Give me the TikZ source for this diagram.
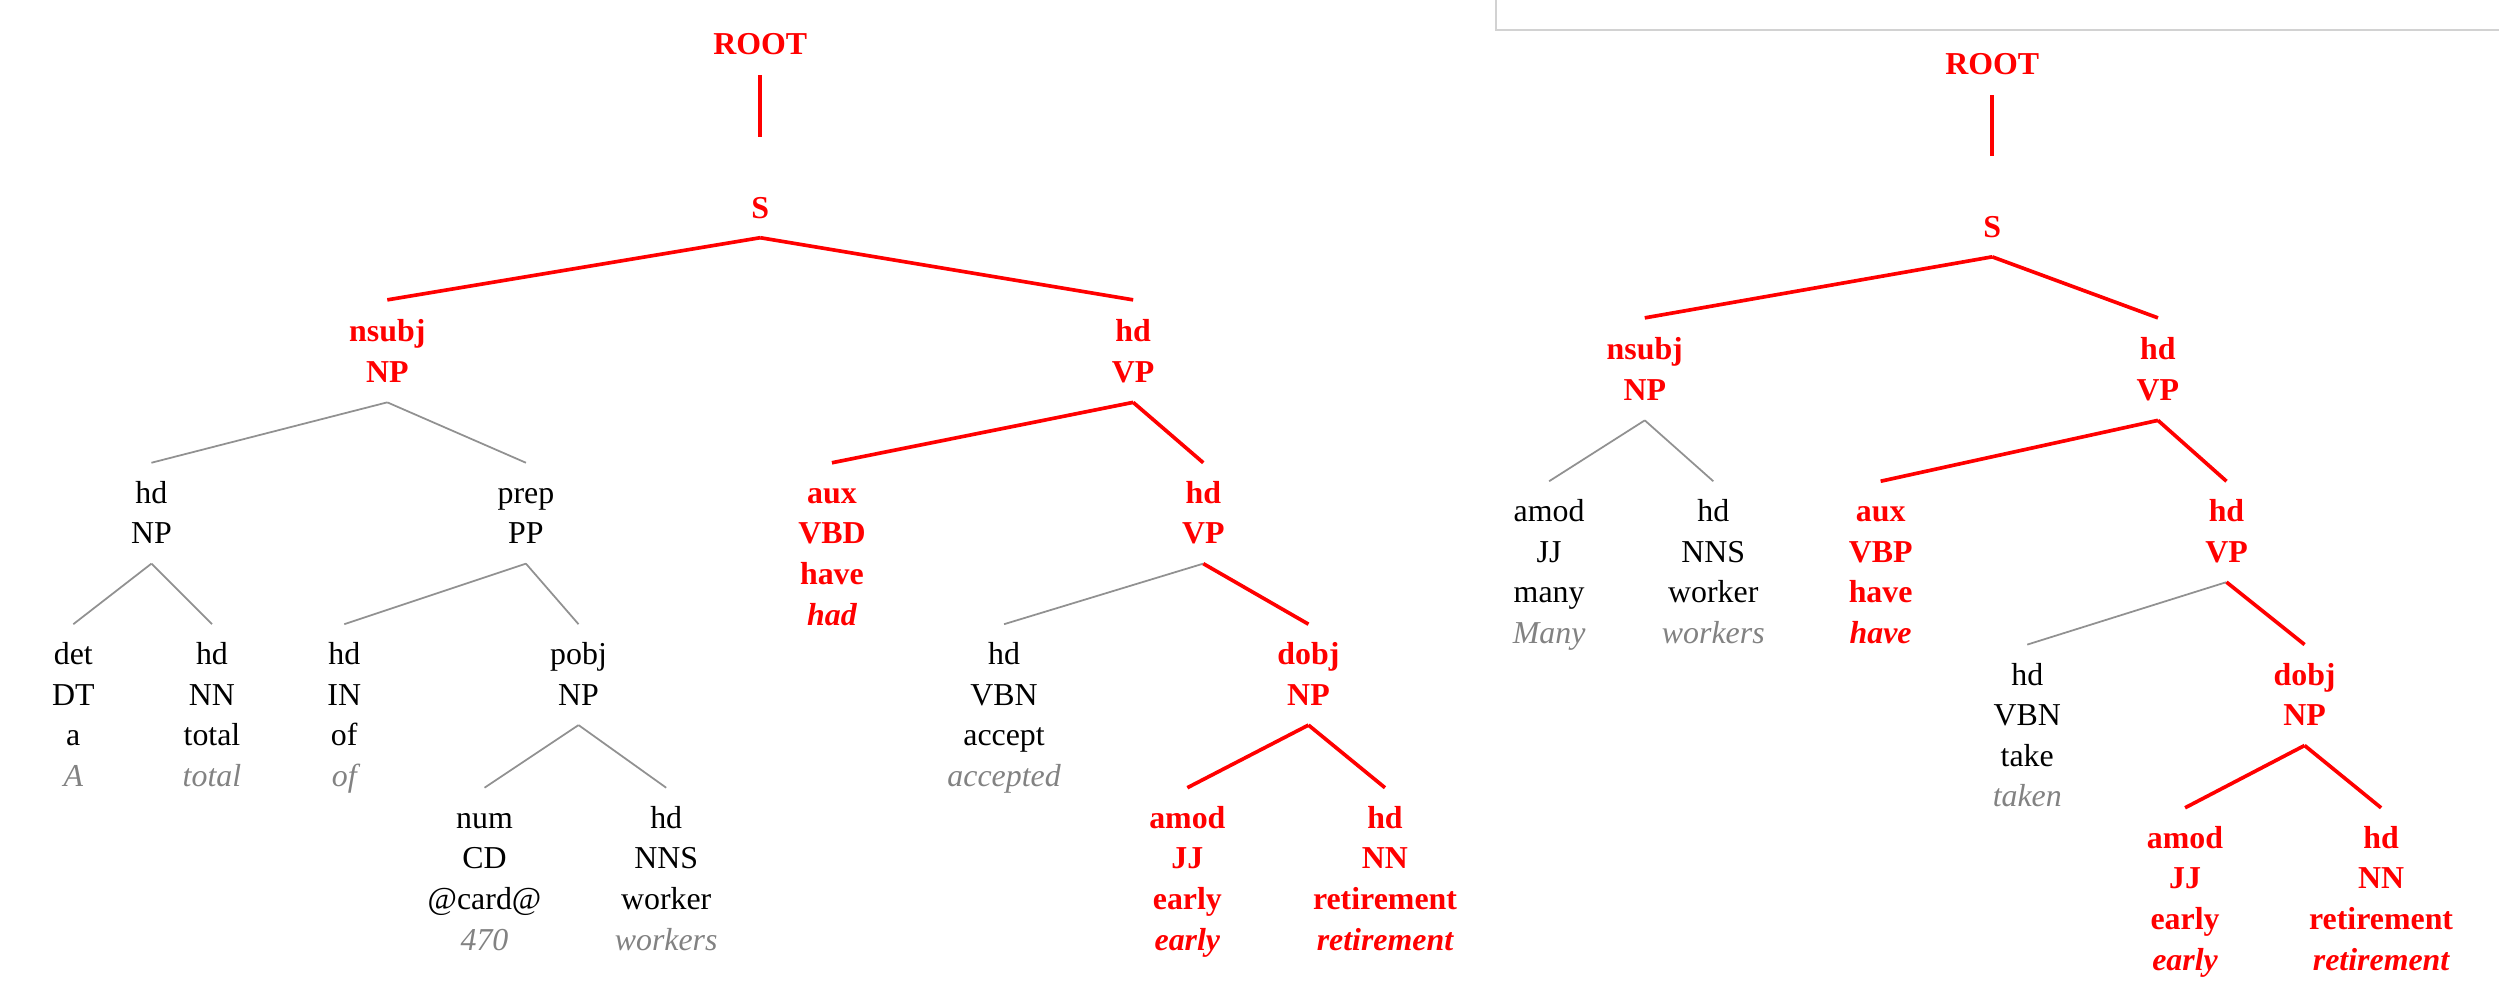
\documentclass[tikz,border=0pt]{standalone}
\usepackage{fontspec}
\setmainfont{Liberation Serif}
\definecolor{tred}{RGB}{255,0,0}
\definecolor{wgrey}{RGB}{130,130,130}
\definecolor{lgrey}{RGB}{145,145,145}
\definecolor{boxgrey}{RGB}{210,210,210}
\newcommand\gw[1]{{\color{wgrey}\itshape #1}}
\newcommand\rw[1]{{\itshape #1}}
\newcommand\tedge[3]{\draw[#1] ([yshift=-4.8pt]#2.south) -- ([yshift=7.5pt]#3.north);}
\newcommand\sedge[3]{\draw[#1] ([yshift=-4.5pt]#2.south) -- ([yshift=8.5pt]#3.north);}
\newcommand\rootedge[2]{\draw[redge] ([yshift=-5pt]#1.south) -- ([yshift=33.5pt]#2.north);}
\tikzset{
  tn/.style={anchor=north, inner sep=0pt, outer sep=0pt, align=center},
  bn/.style={tn, text=black, font=\fontsize{20}{25.5}\selectfont},
  rn/.style={tn, text=tred, font=\fontsize{20}{25.5}\selectfont\bfseries},
  redge/.style={draw=tred, line width=2.3pt},
  gedge/.style={draw=lgrey, line width=1.1pt},
}
\begin{document}
\begin{tikzpicture}[x=1pt,y=-1pt]
\useasboundingbox (0,0) rectangle (1568,616);
\draw[boxgrey, line width=1pt] (938.8,0) -- (938.8,18.8) -- (1568,18.8);

% ---------- left tree ----------
\node[rn] (lroot) at (477,16.65) {\strut ROOT};
\node[rn] (ls) at (477,119.15) {\strut S};
\node[rn] (lnsubj) at (243,196.65) {\strut nsubj\\\strut NP};
\node[rn] (lvp) at (711,196.65) {\strut hd\\\strut VP};
\node[bn] (lnp) at (95,297.85) {\strut hd\\\strut NP};
\node[bn] (lpp) at (330,297.85) {\strut prep\\\strut PP};
\node[rn] (laux) at (522,297.85) {\strut aux\\\strut VBD\\\strut have\\\strut\rw{had}};
\node[rn] (lvp2) at (755,297.85) {\strut hd\\\strut VP};
\node[bn] (ldet) at (46,399.15) {\strut det\\\strut DT\\\strut a\\\strut\gw{A}};
\node[bn] (ltotal) at (133,399.15) {\strut hd\\\strut NN\\\strut total\\\strut\gw{total}};
\node[bn] (lof) at (216,399.15) {\strut hd\\\strut IN\\\strut of\\\strut\gw{of}};
\node[bn] (lpobj) at (363,399.15) {\strut pobj\\\strut NP};
\node[bn] (laccept) at (630,399.15) {\strut hd\\\strut VBN\\\strut accept\\\strut\gw{accepted}};
\node[rn] (ldobj) at (821,399.15) {\strut dobj\\\strut NP};
\node[bn] (lnum) at (304,501.75) {\strut num\\\strut CD\\\strut @card@\\\strut\gw{470}};
\node[bn] (lworker) at (418,501.75) {\strut hd\\\strut NNS\\\strut worker\\\strut\gw{workers}};
\node[rn] (lamod) at (745,501.75) {\strut amod\\\strut JJ\\\strut early\\\strut\rw{early}};
\node[rn] (lret) at (869,501.75) {\strut hd\\\strut NN\\\strut retirement\\\strut\rw{retirement}};

\rootedge{lroot}{ls}
\sedge{redge}{ls}{lnsubj}
\sedge{redge}{ls}{lvp}
\tedge{gedge}{lnsubj}{lnp}
\tedge{gedge}{lnsubj}{lpp}
\tedge{redge}{lvp}{laux}
\tedge{redge}{lvp}{lvp2}
\tedge{gedge}{lnp}{ldet}
\tedge{gedge}{lnp}{ltotal}
\tedge{gedge}{lpp}{lof}
\tedge{gedge}{lpp}{lpobj}
\tedge{gedge}{lvp2}{laccept}
\tedge{redge}{lvp2}{ldobj}
\tedge{gedge}{lpobj}{lnum}
\tedge{gedge}{lpobj}{lworker}
\tedge{redge}{ldobj}{lamod}
\tedge{redge}{ldobj}{lret}

% ---------- right tree ----------
\node[rn] (rroot) at (1250,29.15) {\strut ROOT};
\node[rn] (rs) at (1250,131.15) {\strut S};
\node[rn] (rnsubj) at (1032,207.95) {\strut nsubj\\\strut NP};
\node[rn] (rvp) at (1354,207.95) {\strut hd\\\strut VP};
\node[bn] (ramod) at (972,309.45) {\strut amod\\\strut JJ\\\strut many\\\strut\gw{Many}};
\node[bn] (rworker) at (1075,309.45) {\strut hd\\\strut NNS\\\strut worker\\\strut\gw{workers}};
\node[rn] (raux) at (1180,309.45) {\strut aux\\\strut VBP\\\strut have\\\strut\rw{have}};
\node[rn] (rvp2) at (1397,309.45) {\strut hd\\\strut VP};
\node[bn] (rtake) at (1272,411.95) {\strut hd\\\strut VBN\\\strut take\\\strut\gw{taken}};
\node[rn] (rdobj) at (1446,411.95) {\strut dobj\\\strut NP};
\node[rn] (ramod2) at (1371,514.35) {\strut amod\\\strut JJ\\\strut early\\\strut\rw{early}};
\node[rn] (rret) at (1494,514.35) {\strut hd\\\strut NN\\\strut retirement\\\strut\rw{retirement}};

\rootedge{rroot}{rs}
\sedge{redge}{rs}{rnsubj}
\sedge{redge}{rs}{rvp}
\tedge{gedge}{rnsubj}{ramod}
\tedge{gedge}{rnsubj}{rworker}
\tedge{redge}{rvp}{raux}
\tedge{redge}{rvp}{rvp2}
\tedge{gedge}{rvp2}{rtake}
\tedge{redge}{rvp2}{rdobj}
\tedge{redge}{rdobj}{ramod2}
\tedge{redge}{rdobj}{rret}
\end{tikzpicture}
\end{document}
